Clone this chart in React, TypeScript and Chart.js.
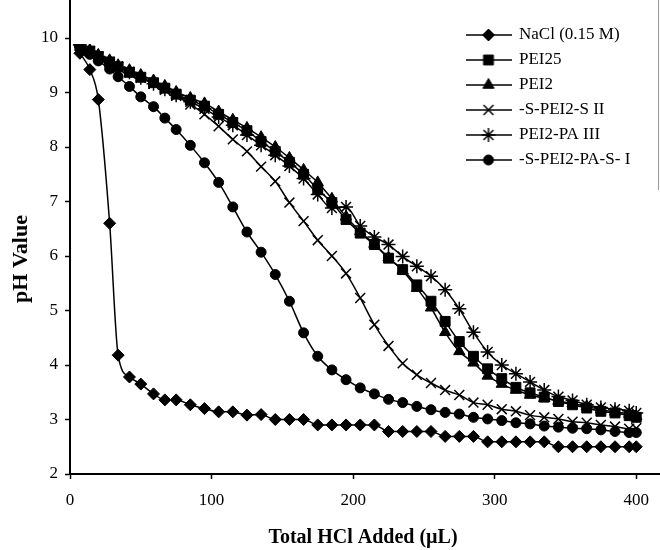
import React, { useEffect, useRef } from 'react';
import { Chart, registerables } from 'chart.js';
import { drawPoint } from 'chart.js/helpers';

Chart.register(...registerables);

const FONT = "'Liberation Serif', 'Times New Roman', Times, serif";

// Total HCl added (µL)
const volumes = [0, 7, 14, 20, 28, 34, 42, 50, 59, 67, 75, 85, 95, 105, 115, 125, 135, 145, 155, 165, 175, 185, 195, 205, 215, 225, 235, 245, 255, 265, 275, 285, 295, 305, 315, 325, 335, 345, 355, 365, 375, 385, 395, 400];

const seriesLabels = ['NaCl (0.15 M)', 'PEI25', 'PEI2', '-S-PEI2-S II', 'PEI2-PA III', '-S-PEI2-PA-S- I'];

const naclPH = [10.0, 9.72, 9.42, 8.87, 6.6, 4.18, 3.78, 3.65, 3.47, 3.36, 3.36, 3.27, 3.2, 3.14, 3.14, 3.08, 3.09, 3.0, 3.0, 3.0, 2.9, 2.9, 2.9, 2.9, 2.9, 2.78, 2.78, 2.78, 2.78, 2.69, 2.69, 2.69, 2.59, 2.59, 2.59, 2.59, 2.59, 2.5, 2.5, 2.5, 2.5, 2.5, 2.5, 2.5];
const pei25PH = [10.0, 9.86, 9.76, 9.66, 9.56, 9.47, 9.37, 9.28, 9.18, 9.08, 8.97, 8.86, 8.75, 8.6, 8.45, 8.3, 8.1, 7.92, 7.72, 7.5, 7.22, 6.98, 6.67, 6.42, 6.21, 5.96, 5.75, 5.47, 5.17, 4.8, 4.43, 4.16, 3.93, 3.75, 3.59, 3.49, 3.41, 3.33, 3.27, 3.21, 3.15, 3.12, 3.07, 3.04];
const pei2PH = [10.0, 9.88, 9.78, 9.69, 9.59, 9.5, 9.41, 9.32, 9.22, 9.12, 9.01, 8.9, 8.8, 8.65, 8.5, 8.35, 8.18, 8.0, 7.8, 7.58, 7.35, 7.05, 6.72, 6.45, 6.22, 5.97, 5.73, 5.41, 5.05, 4.6, 4.25, 4.04, 3.8, 3.65, 3.54, 3.45, 3.39, 3.34, 3.29, 3.24, 3.18, 3.14, 3.1, 3.06];
const ssPH = [10.0, 9.85, 9.75, 9.66, 9.56, 9.48, 9.38, 9.28, 9.16, 9.05, 8.94, 8.78, 8.6, 8.38, 8.14, 7.92, 7.64, 7.37, 6.98, 6.64, 6.29, 6.0, 5.68, 5.23, 4.74, 4.35, 4.03, 3.82, 3.67, 3.54, 3.45, 3.31, 3.27, 3.19, 3.15, 3.08, 3.04, 3.01, 2.96, 2.94, 2.9, 2.87, 2.83, 2.84];
const paPH = [10.0, 9.87, 9.76, 9.66, 9.56, 9.47, 9.37, 9.27, 9.16, 9.06, 8.95, 8.83, 8.7, 8.55, 8.4, 8.22, 8.03, 7.85, 7.65, 7.42, 7.13, 6.88, 6.9, 6.55, 6.35, 6.21, 5.99, 5.81, 5.63, 5.38, 5.03, 4.6, 4.24, 4.0, 3.84, 3.69, 3.54, 3.42, 3.35, 3.27, 3.22, 3.19, 3.16, 3.12];
const spasPH = [10.0, 9.85, 9.7, 9.58, 9.43, 9.29, 9.11, 8.92, 8.74, 8.53, 8.32, 8.03, 7.71, 7.35, 6.9, 6.44, 6.07, 5.66, 5.17, 4.59, 4.16, 3.91, 3.73, 3.58, 3.47, 3.37, 3.31, 3.24, 3.18, 3.13, 3.1, 3.04, 3.01, 2.98, 2.94, 2.92, 2.88, 2.86, 2.84, 2.83, 2.81, 2.78, 2.76, 2.76];

const xTickValues = [0, 100, 200, 300, 400];
const yTickValues = [2, 3, 4, 5, 6, 7, 8, 9, 10];

const seriesValues = [naclPH, pei25PH, pei2PH, ssPH, paPH, spasPH];
const markerStyles = [
  { pointStyle: 'rectRot', radius: 6, borderWidth: 1 },
  { pointStyle: 'rect', radius: 7, borderWidth: 1 },
  { pointStyle: 'triangle', radius: 6.5, borderWidth: 1 },
  { pointStyle: 'crossRot', radius: 7, borderWidth: 1.5 },
  { pointStyle: 'star', radius: 7, borderWidth: 1.5 },
  { pointStyle: 'circle', radius: 5, borderWidth: 1 },
];

function makeIcon(m: any): HTMLCanvasElement {
  const c = document.createElement('canvas');
  c.width = 46;
  c.height = 16;
  const ctx = c.getContext('2d')!;
  ctx.strokeStyle = '#000';
  ctx.fillStyle = '#000';
  ctx.lineWidth = 1.5;
  ctx.beginPath();
  ctx.moveTo(0, 8);
  ctx.lineTo(46, 8);
  ctx.stroke();
  ctx.lineWidth = m.borderWidth;
  drawPoint(ctx, { pointStyle: m.pointStyle, radius: m.radius, rotation: 0, borderWidth: m.borderWidth }, 23, 8);
  return c;
}

const framePlugin = {
  id: 'frameLines',
  afterLayout(chart: any) {
    const lg = chart.legend;
    if (lg) {
      lg.left = 458.5;
      lg.top = 18.5;
      lg.right = 658;
      lg.bottom = 220;
    }
    // shift the axis boxes (not the value mapping) so the titles sit where the reference has them
    const xs = chart.scales.x;
    if (xs) xs.right = 656;
    const ys = chart.scales.y;
    if (ys) ys.top = 44;
  },
  afterDraw(chart: any) {
    const { ctx, chartArea } = chart;
    ctx.save();
    ctx.strokeStyle = '#000';
    ctx.lineWidth = 2;
    ctx.beginPath();
    ctx.moveTo(chartArea.left, 0);
    ctx.lineTo(chartArea.left, chartArea.bottom);
    ctx.moveTo(chartArea.left, chartArea.bottom);
    ctx.lineTo(660, chartArea.bottom);
    ctx.stroke();
    ctx.strokeStyle = '#999';
    ctx.lineWidth = 1;
    ctx.beginPath();
    ctx.moveTo(658.5, 0);
    ctx.lineTo(658.5, 190);
    ctx.stroke();
    ctx.restore();
  },
};

export default function App() {
  const ref = useRef<HTMLCanvasElement>(null);
  useEffect(() => {
    if (!ref.current) return;
    const icons = markerStyles.map(makeIcon);
    const datasets = seriesLabels.map((label, i) => ({
      label,
      data: volumes.map((v, j) => ({ x: v, y: seriesValues[i][j] })),
      borderColor: '#000',
      backgroundColor: '#000',
      borderWidth: 1.5,
      pointStyle: markerStyles[i].pointStyle,
      pointRadius: markerStyles[i].radius,
      pointBorderWidth: markerStyles[i].borderWidth,
      pointBackgroundColor: '#000',
      pointBorderColor: '#000',
      tension: 0.4,
      cubicInterpolationMode: 'monotone',
      fill: false,
    }));
    const chart = new Chart(ref.current, {
      type: 'line',
      data: { datasets },
      plugins: [framePlugin],
      options: {
        animation: false,
        responsive: false,
        color: '#000',
        layout: { padding: { top: 38, right: 14, left: 0, bottom: 0 } },
        plugins: {
          tooltip: { enabled: false },
          legend: {
            position: 'chartArea',
            align: 'start',
            labels: {
              usePointStyle: true,
              pointStyleWidth: 44,
              padding: 8,
              color: '#000',
              font: { size: 17, family: FONT },
              generateLabels(c: any) {
                const items = (Chart as any).defaults.plugins.legend.labels.generateLabels(c);
                return items.map((it: any, i: number) => ({ ...it, pointStyle: icons[i] }));
              },
            },
          },
        },
        scales: {
          x: {
            type: 'linear',
            min: 0,
            max: 400,
            afterFit(s: any) { s.height = 76; },
            afterBuildTicks(s: any) { s.ticks = xTickValues.map((v) => ({ value: v })); },
            ticks: { stepSize: 100, color: '#000', font: { size: 17, family: FONT }, padding: 11, maxRotation: 0 },
            grid: { drawOnChartArea: false, drawTicks: true, tickLength: 5, tickColor: '#000', tickWidth: 1.5 },
            border: { color: '#000', width: 2 },
            title: { display: true, text: 'Total HCl Added (µL)', color: '#000', font: { size: 20, weight: 'bold', family: FONT }, padding: { top: 0, bottom: 0 } },
          },
          y: {
            type: 'linear',
            min: 2,
            max: 10,
            afterFit(s: any) { s.width = 70; },
            afterBuildTicks(s: any) { s.ticks = yTickValues.map((v) => ({ value: v })); },
            ticks: { stepSize: 1, color: '#000', font: { size: 17, family: FONT }, padding: 7 },
            grid: { drawOnChartArea: false, drawTicks: true, tickLength: 5, tickColor: '#000', tickWidth: 1.5 },
            border: { color: '#000', width: 2 },
            title: { display: true, text: 'pH Value', color: '#000', font: { size: 22, weight: 'bold', family: FONT }, padding: { top: 8, bottom: 0 } },
          },
        },
      } as any,
    });
    return () => chart.destroy();
  }, []);
  return (
    <div style={{ position: 'absolute', left: 0, top: 0, width: 660, height: 550 }}>
      <canvas ref={ref} width={660} height={550} style={{ display: 'block' }} />
    </div>
  );
}
